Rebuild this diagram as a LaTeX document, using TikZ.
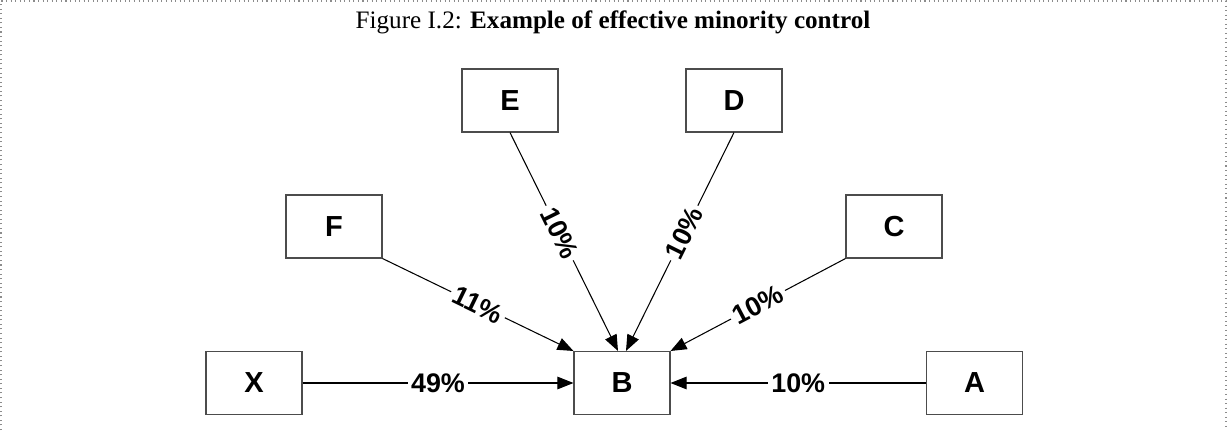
\documentclass[tikz,border=0pt]{standalone}
\usepackage{fontspec}
\setmainfont{Liberation Serif}
\newfontfamily\arialfont{Liberation Sans}
\usetikzlibrary{arrows.meta}

\begin{document}
\begin{tikzpicture}[scale=0.2]
\tikzstyle{box}=[draw=black!70,line width=0.6pt,minimum width=1.92cm,minimum height=1.26cm,inner sep=0pt,font=\arialfont\bfseries\fontsize{16.5}{18}\selectfont]
\tikzstyle{share}=[draw=black,line width=0.6pt,-{Triangle[length=3.2mm,width=2.5mm]}]
\tikzstyle{pct}=[fill=white,inner sep=2pt,sloped,font=\arialfont\bfseries\fontsize{15.3}{17}\selectfont]
\useasboundingbox (0,0) rectangle (122.7,-43);
\draw [black!45,dotted,line width=0.6pt] (0.1,-43) -- (0.1,-0.1) -- (122.6,-0.1) -- (122.6,-43);
\node (title) at (61.3,-2.2) {\fontsize{14.3}{16}\selectfont Figure I.2: \textbf{Example of effective minority control}};
\node [box] (E) at (51,-10.05) {E};
\node [box] (D) at (73.4,-10.05) {D};
\node [box] (F) at (33.4,-22.65) {F};
\node [box] (C) at (89.4,-22.65) {C};
\node [box] (X) at (25.4,-38.3) {X};
\node [box] (B) at (62.2,-38.3) {B};
\node [box] (A) at (97.45,-38.3) {A};
\draw [share] (X) -- node[pct]{49\%} (B);
\draw [share] (A) -- node[pct]{10\%} (B);
\draw [share] (F.south east) -- node[pct]{11\%} (B.north west);
\draw [share] (C.south west) -- node[pct]{10\%} (B.north east);
\draw [share] (E.south) -- node[pct,pos=0.46]{10\%} ([xshift=-0.4cm]B.north);
\draw [share] (D.south) -- node[pct,pos=0.46]{10\%} ([xshift=0.4cm]B.north);
\end{tikzpicture}
\end{document}
